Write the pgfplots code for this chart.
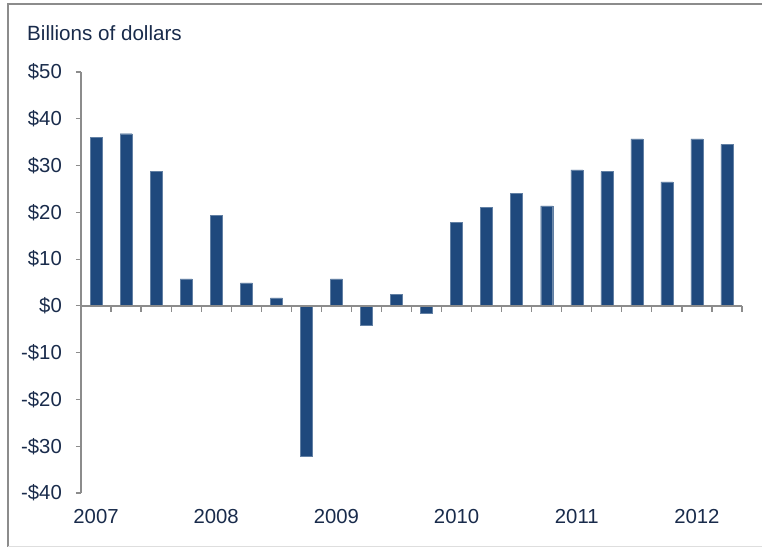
\documentclass[border=0pt]{standalone}
\usepackage{pgfplots}
\pgfplotsset{compat=1.18}
\usepackage{fontspec}
\setmainfont{Liberation Sans}
\definecolor{barblue}{RGB}{31,73,125}
\definecolor{txt}{RGB}{25,43,75}
\definecolor{axgray}{RGB}{140,140,140}
\begin{document}
\begin{tikzpicture}[x=1bp,y=1bp]
\path[use as bounding box] (-81,-55) rectangle (681,493);
\draw[axgray, line width=1.4bp] (-73,-54) -- (-73,489) -- (681,489);
\draw[black!13, line width=1bp] (-73,-53.5) -- (681,-53.5);
\node[anchor=base west, font=\fontsize{20.6bp}{22bp}\selectfont, text=txt, inner sep=0pt]
  at (-54,452) {Billions of dollars};
\begin{axis}[
  at={(0,0)}, anchor=south west,
  scale only axis, width=661bp, height=421bp,
  xmin=-0.5, xmax=21.5, ymin=-40, ymax=50,
  axis y line*=left, axis x line=none,
  y axis line style={axgray, line width=1.2bp},
  ytick={-40,-30,...,50},
  yticklabels={-\$40,-\$30,-\$20,-\$10,\$0,\$10,\$20,\$30,\$40,\$50},
  ytick style={axgray, line width=1.2bp},
  tick align=outside, major tick length=5bp,
  yticklabel style={font=\fontsize{20.3bp}{22bp}\selectfont, text=txt, inner sep=0pt, xshift=-14bp},
  clip=false,
]
\addplot[ybar, bar width=12bp, fill=barblue, draw=barblue!70!white, line width=0.4bp] coordinates {
(0,36.0) (1,36.8) (2,28.8) (3,5.8)
(4,19.3) (5,4.9) (6,1.7) (7,-32.2)
(8,5.8) (9,-4.1) (10,2.4) (11,-1.6)
(12,17.8) (13,21.0) (14,24.0) (15,21.4)
(16,29.1) (17,28.7) (18,35.7) (19,26.5)
(20,35.7) (21,34.5)
};
\draw[axgray, line width=1.6bp] (axis cs:-0.5,0) -- (axis cs:21.5,0);
\pgfplotsinvokeforeach{0.5,1.5,...,21.5}{
  \draw[axgray, line width=1.2bp] (axis cs:#1,0) -- (axis cs:#1,-1.3);
}
\pgfplotsinvokeforeach{0,1,2,3,4,5}{
  \node[anchor=base, font=\fontsize{20.3bp}{22bp}\selectfont, text=txt, inner sep=0pt]
    at ([yshift=-31bp]axis cs:#1*4,-40) {\the\numexpr2007+#1\relax};
}
\end{axis}
\end{tikzpicture}
\end{document}
